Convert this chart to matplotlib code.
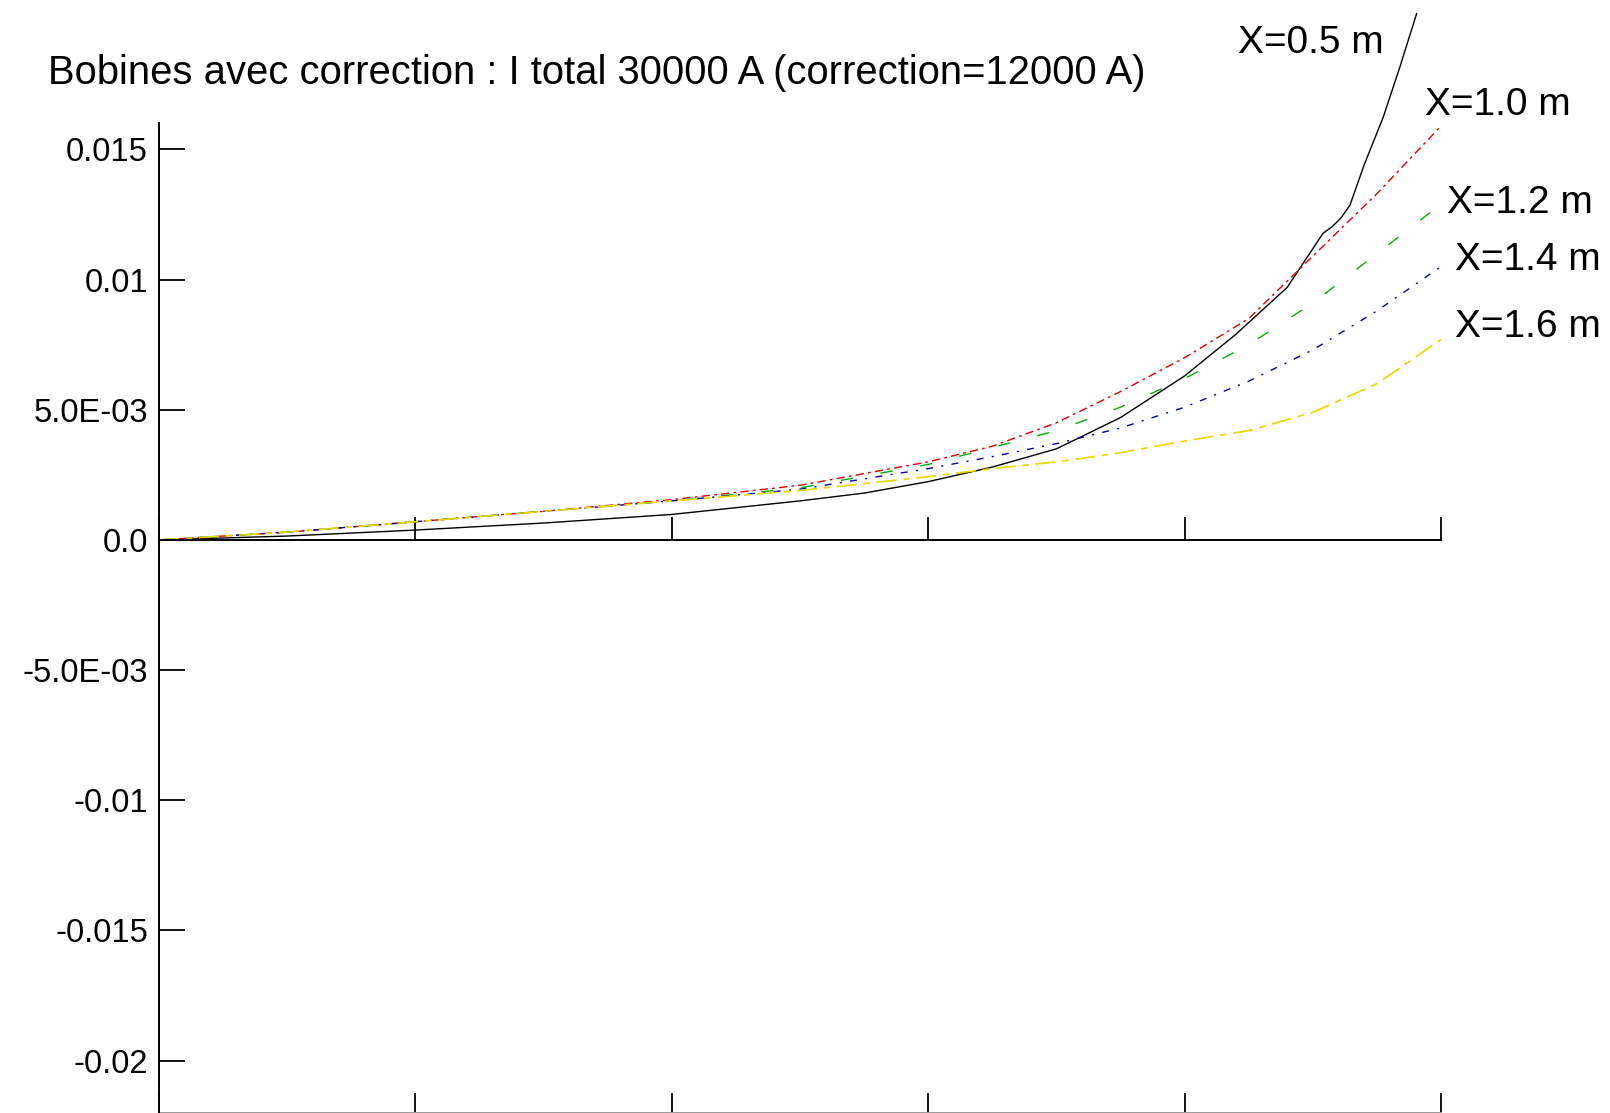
import matplotlib
matplotlib.use("Agg")
import matplotlib.pyplot as plt

plt.rcParams['font.family'] = ['Liberation Sans', 'DejaVu Sans']

title = "Bobines avec correction : I total 30000 A (correction=12000 A)"

x_grid = [0.0, 0.5, 1.0, 1.5, 2.0, 2.5, 3.0, 3.25, 3.5, 3.75, 4.0, 4.25, 4.5, 4.75, 5.0]

# X=0.5 m (solid black)
x_05 = [0.0, 0.5, 1.0, 1.5, 2.0, 2.5, 2.75, 3.0, 3.25, 3.5, 3.75, 4.0, 4.2, 4.4, 4.54, 4.575,
        4.61, 4.645, 4.7, 4.775, 4.84, 4.905]
y_05 = [0.0, 0.00015, 0.00038, 0.00065, 0.00098, 0.0015, 0.0018, 0.00224, 0.0028, 0.0035, 0.0047,
        0.0063, 0.0079, 0.0097, 0.01178, 0.01203, 0.01237, 0.01286, 0.01440, 0.01625, 0.01818, 0.02022]
# X=1.0 m (red)
y_10 = [0.0, 0.0003, 0.0007, 0.0011, 0.00155, 0.0021, 0.0030, 0.0036, 0.0045, 0.0057, 0.0070,
        0.0085, 0.0109, 0.0133, 0.0159]
# X=1.2 m (green)
y_12 = [0.0, 0.0003, 0.0007, 0.0011, 0.0015, 0.0020, 0.0029, 0.00355, 0.0042, 0.0051, 0.0062,
        0.0075, 0.0091, 0.0110, 0.0129]
# X=1.4 m (blue)
y_14 = [0.0, 0.0003, 0.0007, 0.0011, 0.0015, 0.00195, 0.00274, 0.0032, 0.0037, 0.0043, 0.0051,
        0.0061, 0.0073, 0.0088, 0.0105]
# X=1.6 m (yellow)
y_16 = [0.0, 0.0003, 0.0007, 0.0011, 0.0015, 0.0019, 0.00243, 0.00274, 0.0030, 0.00335, 0.0038,
        0.0042, 0.0049, 0.0060, 0.0077]

labels = ["X=0.5 m", "X=1.0 m", "X=1.2 m", "X=1.4 m", "X=1.6 m"]
label_x = [4.208, 4.938, 5.023, 5.055, 5.055]
label_y = [0.0187, 0.01632, 0.01256, 0.01037, 0.0078]

y_ticks = [0.015, 0.01, 0.005, 0.0, -0.005, -0.01, -0.015, -0.02]
y_ticklabels = ["0.015", "0.01", "5.0E-03", "0.0", "-5.0E-03", "-0.01", "-0.015", "-0.02"]
x_ticks = [0, 1, 2, 3, 4, 5]

fig = plt.figure(figsize=(16.10, 11.13), dpi=100)
ax = fig.add_axes([159/1610, 0.0003, (1441-159)/1610, 0.8888])
ax.set_xlim(0, 5)
ax.set_ylim(-0.022, 0.016)

lw = 1.0
ax.plot(x_05, y_05, color='black', lw=1.0, clip_on=False)
ax.plot(x_grid, y_10, color='#E00000', lw=lw, dashes=(6, 3, 2, 3), clip_on=False)
ax.plot(x_grid, y_12, color='#00B000', lw=lw, dashes=(9, 20), clip_on=False)
ax.plot(x_grid, y_14, color='#0000A0', lw=lw, dashes=(5, 6, 1.5, 6), clip_on=False)
ax.plot(x_grid, y_16, color='#E6D800', lw=1.2, dashes=(12, 4, 4, 4), clip_on=False)

for t, lx, ly in zip(labels, label_x, label_y):
    ax.text(lx, ly, t, fontsize=28, ha='left', va='baseline', clip_on=False)

for s in ['top', 'right']:
    ax.spines[s].set_visible(False)
ax.spines['left'].set_linewidth(1.4)
ax.spines['bottom'].set_position(('data', 0))
ax.spines['bottom'].set_linewidth(1.4)

ax.set_yticks(y_ticks)
ax.set_yticklabels(y_ticklabels)
ax.tick_params(axis='y', direction='in', length=18.5, width=1.3, pad=8, labelsize=23.5)
ax.set_xticks(x_ticks)
ax.tick_params(axis='x', direction='in', length=16.5, width=1.3, labelbottom=False)

sec = ax.secondary_xaxis(0.0)
sec.set_xticks(x_ticks)
sec.tick_params(axis='x', direction='in', length=14.5, width=1.3, labelbottom=False, labeltop=False)
sec.spines['bottom'].set_color('#999999')
sec.spines['bottom'].set_linewidth(1.4)

fig.text(48/1610, 1 - 84/1113, title, fontsize=28.8, ha='left', va='baseline')

fig.savefig("out.png", dpi=100)
